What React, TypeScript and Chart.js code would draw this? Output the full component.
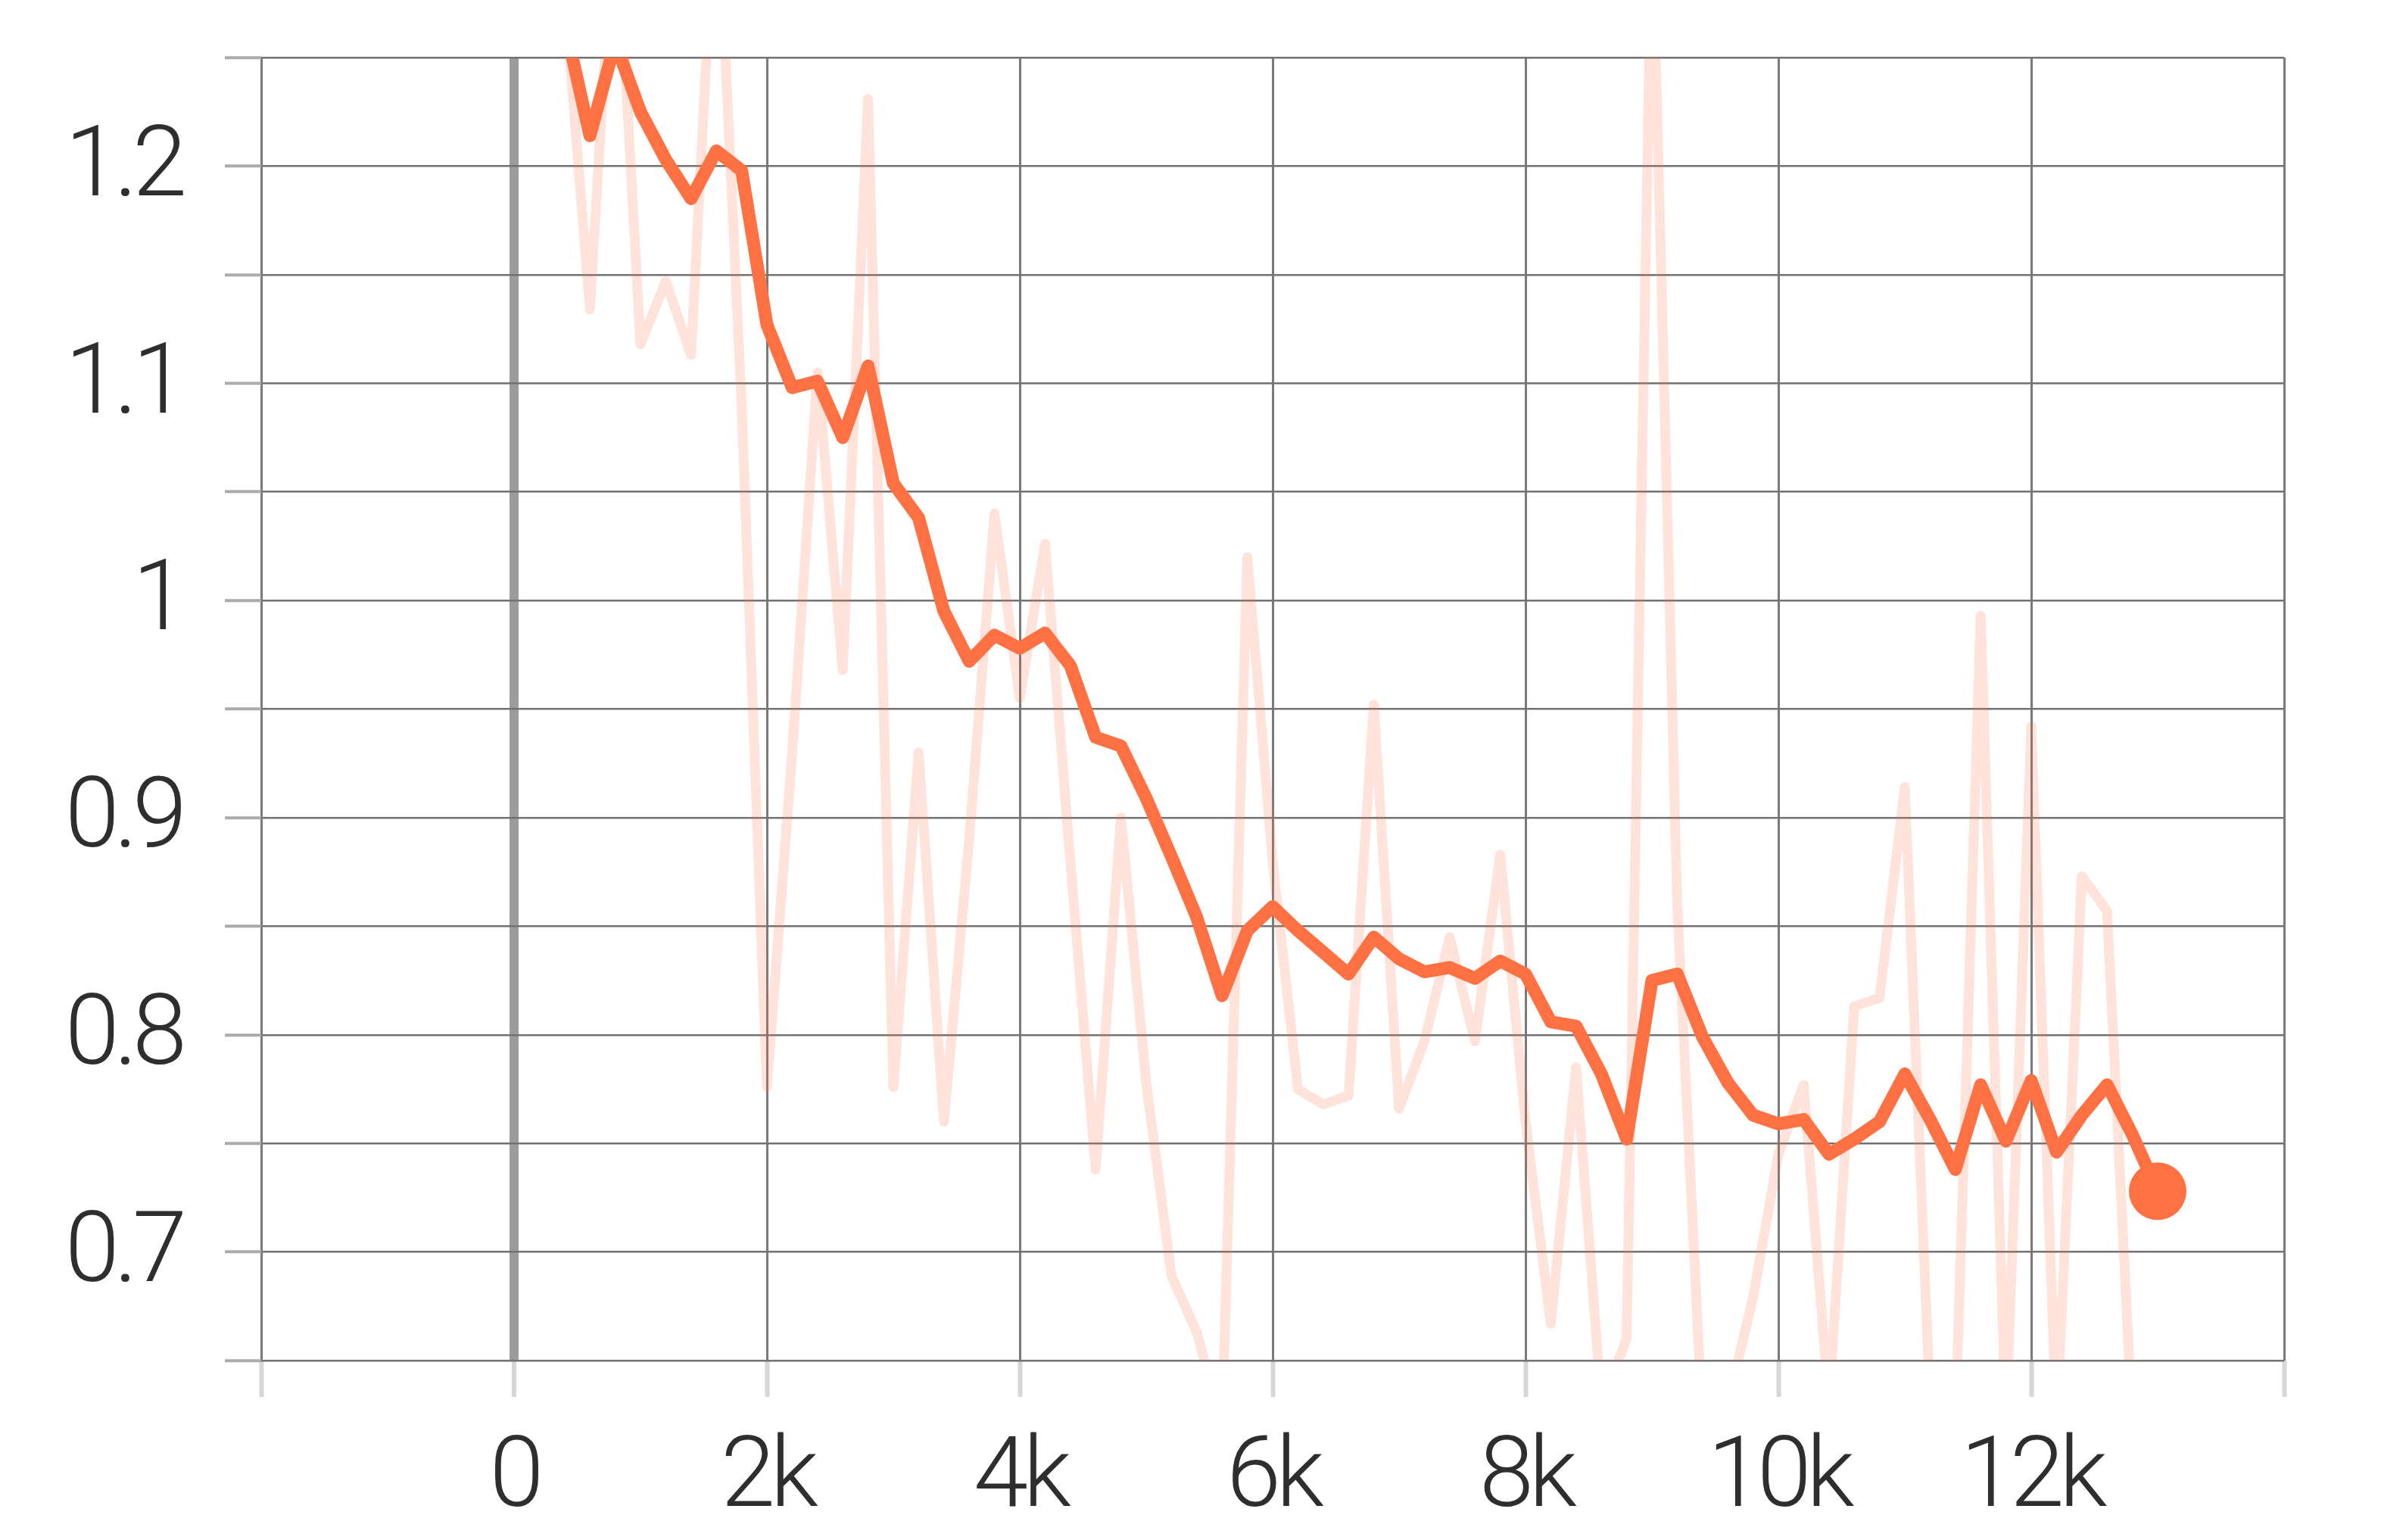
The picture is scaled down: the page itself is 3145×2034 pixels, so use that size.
import React, { useEffect, useRef } from 'react';
import { Chart, registerables } from 'chart.js';

Chart.register(...registerables);

const steps = [
  0, 200, 400, 600, 800, 1000, 1200, 1400, 1600, 1800,
  2000, 2200, 2400, 2600, 2800, 3000, 3200, 3400, 3600, 3800,
  4000, 4200, 4400, 4600, 4800, 5000, 5200, 5400, 5600, 5800,
  6000, 6200, 6400, 6600, 6800, 7000, 7200, 7400, 7600, 7800,
  8000, 8200, 8400, 8600, 8800, 9000, 9200, 9400, 9600, 9800,
  10000, 10200, 10400, 10600, 10800, 11000, 11200, 11400, 11600, 11800,
  12000, 12200, 12400, 12600, 12800, 13000,
];

const smoothed = [
  1.36, 1.31, 1.266, 1.214, 1.257, 1.225, 1.203, 1.185, 1.207, 1.198,
  1.127, 1.098, 1.101, 1.075, 1.108, 1.054, 1.038, 0.995, 0.972, 0.984,
  0.978, 0.985, 0.970, 0.937, 0.933, 0.909, 0.882, 0.854, 0.818, 0.848,
  0.859, 0.848, 0.838, 0.828, 0.845, 0.835, 0.829, 0.831, 0.826, 0.834,
  0.828, 0.806, 0.804, 0.782, 0.752, 0.825, 0.828, 0.799, 0.778, 0.763,
  0.759, 0.761, 0.745, 0.752, 0.760, 0.782, 0.761, 0.738, 0.777, 0.751,
  0.779, 0.746, 0.763, 0.777, 0.754, 0.728,
];

const raw = [
  1.40, 1.30, 1.28, 1.134, 1.33, 1.118, 1.147, 1.113, 1.34, 1.09,
  0.776, 0.93, 1.105, 0.968, 1.231, 0.776, 0.930, 0.760, 0.89, 1.040,
  0.955, 1.026, 0.88, 0.738, 0.90, 0.778, 0.689, 0.663, 0.62, 1.02,
  0.88, 0.775, 0.768, 0.772, 0.952, 0.766, 0.797, 0.845, 0.797, 0.883,
  0.76, 0.667, 0.785, 0.63, 0.66, 1.32, 0.86, 0.62, 0.63, 0.679,
  0.745, 0.777, 0.63, 0.813, 0.817, 0.914, 0.63, 0.62, 0.993, 0.62,
  0.942, 0.62, 0.873, 0.857, 0.62, 0.62,
];

const xTickValues = [-2000, 0, 2000, 4000, 6000, 8000, 10000, 12000, 14000];
const xTickLabels = ['', '0', '2k', '4k', '6k', '8k', '10k', '12k', ''];
const yTickValues = [0.65, 0.7, 0.75, 0.8, 0.85, 0.9, 0.95, 1, 1.05, 1.1, 1.15, 1.2, 1.25];
const yTickLabels = ['', '0.7', '', '0.8', '', '0.9', '', '1', '', '1.1', '', '1.2', ''];

const ORANGE = '#ff7043';
const W = 3145;
const H = 2034;

const letterSpacingPlugin = {
  id: 'letterSpacing',
  beforeDraw(chart: any) {
    try {
      (chart.ctx as any).letterSpacing = '-7px';
    } catch (e) {}
  },
};

export default function App() {
  const ref = useRef<HTMLCanvasElement | null>(null);

  useEffect(() => {
    document.body.style.margin = '0';
    const canvas = ref.current;
    if (!canvas) return;
    const font = { family: '"Roboto Light", Roboto, sans-serif', size: 130, weight: '300' as any };
    const chart = new Chart(canvas, {
      type: 'line',
      plugins: [letterSpacingPlugin],
      data: {
        datasets: [
          {
            label: 'smoothed',
            data: steps.map((s, i) => ({ x: s, y: smoothed[i] })),
            borderColor: ORANGE,
            backgroundColor: ORANGE,
            borderWidth: 17,
            borderJoinStyle: 'round',
            borderCapStyle: 'round',
            tension: 0,
            pointRadius: (ctx: any) => (ctx.dataIndex === smoothed.length - 1 ? 38 : 0),
            pointBackgroundColor: ORANGE,
            pointBorderWidth: 0,
            clip: 0 as any,
            order: 0,
          },
          {
            label: 'raw',
            data: steps.map((s, i) => ({ x: s, y: raw[i] })),
            borderColor: 'rgba(255,112,67,0.2)',
            borderWidth: 13,
            borderJoinStyle: 'round',
            tension: 0,
            pointRadius: 0,
            clip: 0 as any,
            order: 1,
          },
        ],
      },
      options: {
        responsive: false,
        animation: false,
        devicePixelRatio: 1,
        layout: { padding: { top: 76, right: 128, left: 0, bottom: 0 } },
        plugins: { legend: { display: false }, tooltip: { enabled: false } },
        scales: {
          x: {
            type: 'linear',
            min: -2000,
            max: 14000,
            afterBuildTicks: (s: any) => {
              s.ticks = xTickValues.map((v) => ({ value: v }));
            },
            afterFit: (s: any) => {
              s.height = H - 1797;
              s.paddingLeft = 0;
              s.paddingRight = 0;
              s.paddingTop = 0;
              s.paddingBottom = 0;
            },
            ticks: {
              callback: (_v: any, i: number) => xTickLabels[i],
              font,
              color: '#2e2e2e',
              padding: 28,
              maxRotation: 0,
              autoSkip: false,
            },
            grid: {
              color: (ctx: any) => (ctx.tick && ctx.tick.value === 0 ? '#9c9c9c' : '#7a7a7a'),
              lineWidth: (ctx: any) => (ctx.tick && ctx.tick.value === 0 ? 12 : 3),
              tickLength: 48,
              tickColor: '#d6d6d6',
              tickWidth: 6,
            },
            border: { display: false },
          },
          y: {
            type: 'linear',
            min: 0.65,
            max: 1.25,
            afterBuildTicks: (s: any) => {
              s.ticks = yTickValues.map((v) => ({ value: v }));
            },
            afterFit: (s: any) => {
              s.width = 345;
              s.paddingLeft = 0;
              s.paddingRight = 0;
              s.paddingTop = 0;
              s.paddingBottom = 0;
            },
            ticks: {
              callback: (_v: any, i: number) => yTickLabels[i],
              font,
              color: '#2e2e2e',
              padding: 57,
              autoSkip: false,
            },
            grid: {
              color: '#727272',
              lineWidth: 2.5,
              tickLength: 48,
              tickColor: '#ababab',
              tickWidth: 4,
            },
            border: { display: false },
          },
        },
      },
    });
    return () => chart.destroy();
  }, []);

  return (
    <div style={{ width: W, height: H, overflow: 'hidden', background: '#fff' }}>
      <canvas ref={ref} width={W} height={H} style={{ display: 'block', width: W, height: H }} />
    </div>
  );
}
